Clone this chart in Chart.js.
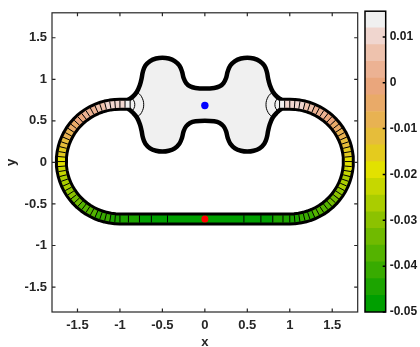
<!DOCTYPE html>
<html>
<head>
<meta charset="utf-8">
<script src="https://cdn.jsdelivr.net/npm/chart.js@4/dist/chart.umd.min.js"></script>
<style>
  html, body { margin: 0; padding: 0; background: #fff; }
  #wrap { position: relative; width: 420px; height: 347px; }
  #main { position: absolute; left: 0; top: 0; }
  #cbar { position: absolute; left: 355px; top: 0; }
</style>
</head>
<body>
<div id="wrap">
  <canvas id="main" width="420" height="347" style="width:420px;height:347px"></canvas>
  <canvas id="cbar" width="65" height="347" style="width:65px;height:347px"></canvas>
</div>
<script>
// axes
const axisRange = [-1.8, 1.8];
const xTicks = [-1.5, -1, -0.5, 0, 0.5, 1, 1.5];
const yTicks = [-1.5, -1, -0.5, 0, 0.5, 1, 1.5];

// colour bar
const cbRange = [-0.05, 0.0156];
const cbTicks = [-0.05, -0.04, -0.03, -0.02, -0.01, 0, 0.01];
const bandColors = [
  '#009f00', '#1ca400', '#38ab00', '#54b300', '#70ba00', '#8cc200',
  '#aacd00', '#c6d700', '#e2e100', '#e4cb1e', '#e6bd3a', '#e8b252',
  '#e9aa68', '#eaa67c', '#ecb293', '#eec2ad', '#f0d6cf', '#f0f0f0'
];

// loop channel centre line
const trackCentreX = [-1, 1];
const trackCentreY = 0.01;
const trackRadius = 0.69;

// cell edges of the channel mesh
const stubEdgesX = [-0.88, -0.94, -1.0];
const arcEdgesDeg = [90, 94.74, 99.47, 104.21, 108.95, 113.68, 118.42, 123.16, 127.89, 132.63,
  137.37, 142.11, 146.84, 151.58, 156.32, 161.05, 165.79, 170.53, 175.26, 180,
  184.74, 189.47, 194.21, 198.95, 203.68, 208.42, 213.16, 217.89, 222.63, 227.37,
  232.11, 236.84, 241.58, 246.32, 251.05, 255.79, 260.53, 265.26, 270];
const bottomEdgesX = [-1.0, -0.9, -0.77, -0.63, -0.44, 0, 0.46, 0.66, 0.80, 0.92, 1.0];

// one value per cell, from the left neck round the bottom to the right neck
const cellValues = [
  0.014, 0.0115,
  0.0105, 0.0095, 0.0085, 0.0075, 0.006, 0.0045, 0.003, 0.0015, 0.0, -0.0015,
  -0.003, -0.005, -0.007, -0.009, -0.011, -0.013, -0.015, -0.017, -0.019,
  -0.0205, -0.022, -0.0235, -0.025, -0.0265, -0.028, -0.0295, -0.031, -0.0325,
  -0.034, -0.0355, -0.037, -0.038, -0.039, -0.040, -0.041, -0.042, -0.043, -0.044,
  -0.0455, -0.046, -0.047, -0.048, -0.049, -0.049, -0.048, -0.047, -0.046, -0.0455,
  -0.044, -0.043, -0.042, -0.041, -0.040, -0.039, -0.038, -0.037, -0.0355, -0.034,
  -0.0325, -0.031, -0.0295, -0.028, -0.0265, -0.025, -0.0235, -0.022, -0.0205,
  -0.019, -0.017, -0.015, -0.013, -0.011, -0.009, -0.007, -0.005, -0.003, -0.0015,
  0.0, 0.0015, 0.003, 0.0045, 0.006, 0.0075, 0.0085, 0.0095, 0.0105,
  0.0115, 0.014
];

// central chamber: upper and lower walls, left to right
const blobX = [-0.90, -0.85, -0.80, -0.765, -0.745, -0.73, -0.70, -0.645, -0.575, -0.50,
  -0.425, -0.355, -0.30, -0.268, -0.25, -0.22, -0.175, -0.11, 0,
  0.11, 0.175, 0.22, 0.25, 0.268, 0.30, 0.355, 0.425, 0.50, 0.575,
  0.645, 0.70, 0.73, 0.745, 0.765, 0.80, 0.85, 0.90];
const blobTopY = [0.755, 0.79, 0.85, 0.93, 1.01, 1.09, 1.165, 1.22, 1.25, 1.26,
  1.25, 1.22, 1.165, 1.09, 1.015, 0.955, 0.915, 0.895, 0.888,
  0.895, 0.915, 0.955, 1.015, 1.09, 1.165, 1.22, 1.25, 1.26, 1.25,
  1.22, 1.165, 1.09, 1.01, 0.93, 0.85, 0.79, 0.755];
const blobBottomY = [0.645, 0.60, 0.54, 0.46, 0.38, 0.30, 0.225, 0.17, 0.14, 0.13,
  0.14, 0.17, 0.225, 0.30, 0.375, 0.435, 0.475, 0.495, 0.502,
  0.495, 0.475, 0.435, 0.375, 0.30, 0.225, 0.17, 0.14, 0.13, 0.14,
  0.17, 0.225, 0.30, 0.38, 0.46, 0.54, 0.60, 0.645];

// thin arcs at the two necks
const neckArcsX = [
  [-0.80, -0.745, -0.72, -0.745, -0.80],
  [-0.865, -0.835, -0.825, -0.835, -0.865],
  [0.80, 0.745, 0.72, 0.745, 0.80],
  [0.865, 0.835, 0.825, 0.835, 0.865]
];
const neckArcsY = [
  [0.85, 0.79, 0.695, 0.60, 0.54],
  [0.78, 0.74, 0.695, 0.65, 0.61],
  [0.85, 0.79, 0.695, 0.60, 0.54],
  [0.78, 0.74, 0.695, 0.65, 0.61]
];

const bluePoint = { x: 0, y: 0.685 };
const redPoint = { x: 0, y: -0.68 };

const fontFamily = "'Liberation Sans', Arial, sans-serif";
const axisFont = { family: fontFamily, size: 13, weight: 'bold' };
const cbFont = { family: fontFamily, size: 12, weight: 'bold' };
const axisColor = '#262626';

function colorFor(v) {
  const n = bandColors.length;
  const i = Math.floor((v - cbRange[0]) / (cbRange[1] - cbRange[0]) * n);
  return bandColors[Math.max(0, Math.min(n - 1, i))];
}

// cell edge points along the channel
const yTop = trackCentreY + trackRadius;
const yBot = trackCentreY - trackRadius;
const edges = [];
stubEdgesX.forEach(x => edges.push({ x: x, y: yTop, rot: 90 }));
arcEdgesDeg.slice(1).forEach(a => {
  const t = a * Math.PI / 180;
  edges.push({ x: trackCentreX[0] + trackRadius * Math.cos(t), y: trackCentreY + trackRadius * Math.sin(t), rot: -a });
});
bottomEdgesX.slice(1).forEach(x => edges.push({ x: x, y: yBot, rot: 90 }));
arcEdgesDeg.slice(1).forEach(a => {
  const t = (a - 180) * Math.PI / 180;
  edges.push({ x: trackCentreX[1] + trackRadius * Math.cos(t), y: trackCentreY + trackRadius * Math.sin(t), rot: 180 - a });
});
stubEdgesX.slice().reverse().slice(1).forEach(x => edges.push({ x: -x, y: yTop, rot: 90 }));
const edgePts = edges.map(e => ({ x: e.x, y: e.y }));

const blobTop = blobX.map((x, i) => ({ x: x, y: blobTopY[i] }));
const blobBottom = blobX.map((x, i) => ({ x: x, y: blobBottomY[i] }));
const blobShape = blobTop.concat(blobBottom.slice().reverse(), [blobTop[0]]);

// box with inward ticks, like the original figure
const boxTicks = {
  id: 'boxTicks',
  afterDatasetsDraw(chart, args, opts) {
    const { ctx, chartArea: a } = chart;
    ctx.save();
    ctx.strokeStyle = opts.color;
    ctx.lineWidth = opts.width;
    ctx.strokeRect(a.left, a.top, a.right - a.left, a.bottom - a.top);
    ctx.beginPath();
    if (opts.xTicks) {
      chart.scales.x.ticks.forEach(t => {
        const px = chart.scales.x.getPixelForValue(t.value);
        ctx.moveTo(px, a.bottom); ctx.lineTo(px, a.bottom - opts.len);
        ctx.moveTo(px, a.top); ctx.lineTo(px, a.top + opts.len);
      });
    }
    chart.scales.y.ticks.forEach(t => {
      const py = chart.scales.y.getPixelForValue(t.value);
      if (opts.leftTicks) { ctx.moveTo(a.left, py); ctx.lineTo(a.left + opts.len, py); }
      ctx.moveTo(a.right, py); ctx.lineTo(a.right - opts.len, py);
    });
    ctx.stroke();
    ctx.restore();
  }
};

const datasets = [
  {
    data: blobShape, showLine: true, fill: 'shape', backgroundColor: '#f0f0f0',
    borderWidth: 0, borderColor: 'rgba(0,0,0,0)', tension: 0.4, pointRadius: 0, order: 6
  },
  { data: blobTop, showLine: true, borderColor: '#000', borderWidth: 4.5, tension: 0.4, pointRadius: 0, order: 5 },
  { data: blobBottom, showLine: true, borderColor: '#000', borderWidth: 4.5, tension: 0.4, pointRadius: 0, order: 5 },
  {
    data: edgePts, showLine: true, borderColor: '#000', borderWidth: 13,
    borderCapStyle: 'butt', borderJoinStyle: 'round', tension: 0, pointRadius: 0, order: 4
  },
  {
    data: edgePts, showLine: true, borderWidth: 7, borderCapStyle: 'butt', tension: 0,
    segment: { borderColor: c => colorFor(cellValues[c.p0DataIndex]) },
    pointStyle: 'line', pointRadius: 3.6, pointBorderColor: '#000', pointBorderWidth: 1,
    pointRotation: edges.map(e => e.rot), order: 3
  }
];
neckArcsX.forEach((xs, k) => datasets.push({
  data: xs.map((x, i) => ({ x: x, y: neckArcsY[k][i] })),
  showLine: true, borderColor: '#000', borderWidth: 1, tension: 0.4, pointRadius: 0, order: 1
}));
datasets.push({ data: [bluePoint], pointRadius: 3.7, pointBackgroundColor: '#0000ff', pointBorderWidth: 0, order: 0 });
datasets.push({ data: [redPoint], pointRadius: 3.5, pointBackgroundColor: '#ff0000', pointBorderWidth: 0, order: 0 });

new Chart(document.getElementById('main'), {
  type: 'scatter',
  data: { datasets: datasets },
  options: {
    responsive: false,
    animation: false,
    layout: { padding: { top: 7, right: 62.3, left: 0, bottom: 0 } },
    plugins: {
      legend: { display: false },
      tooltip: { enabled: false },
      boxTicks: { color: axisColor, width: 1.2, len: 3.5, xTicks: true, leftTicks: true }
    },
    scales: {
      x: {
        type: 'linear', min: axisRange[0], max: axisRange[1],
        afterBuildTicks: s => { s.ticks = xTicks.map(v => ({ value: v })); },
        afterFit: s => { s.height = 35; },
        grid: { display: false, drawTicks: false },
        border: { display: false },
        ticks: { padding: 6, font: axisFont, color: axisColor, maxRotation: 0, autoSkip: false, callback: v => String(v) },
        title: { display: true, text: 'x', font: axisFont, color: axisColor, padding: { top: 0, bottom: -3 } }
      },
      y: {
        type: 'linear', min: axisRange[0], max: axisRange[1],
        afterBuildTicks: s => { s.ticks = yTicks.map(v => ({ value: v })); },
        afterFit: s => { s.width = 52; },
        grid: { display: false, drawTicks: false },
        border: { display: false },
        ticks: { padding: 5, font: axisFont, color: axisColor, autoSkip: false, callback: v => String(v) },
        title: { display: true, text: 'y', font: axisFont, color: axisColor, padding: { top: 4, bottom: 0 } }
      }
    }
  },
  plugins: [boxTicks]
});

// colour bar
const bandStep = (cbRange[1] - cbRange[0]) / bandColors.length;
new Chart(document.getElementById('cbar'), {
  type: 'bar',
  data: {
    labels: ['c'],
    datasets: bandColors.map((c, i) => ({
      data: [[cbRange[0] + i * bandStep, cbRange[0] + (i + 1) * bandStep]],
      backgroundColor: c, borderWidth: 0, barPercentage: 1, categoryPercentage: 1, grouped: false
    }))
  },
  options: {
    responsive: false,
    animation: false,
    layout: { padding: { left: 10, top: 7, bottom: 35, right: 0 } },
    plugins: {
      legend: { display: false },
      tooltip: { enabled: false },
      boxTicks: { color: '#000', width: 1.5, len: 3, xTicks: false, leftTicks: false }
    },
    scales: {
      x: { display: false },
      y: {
        position: 'right', min: cbRange[0], max: cbRange[1],
        afterBuildTicks: s => { s.ticks = cbTicks.map(v => ({ value: v })); },
        afterFit: s => { s.width = 34.3; },
        grid: { display: false, drawTicks: false },
        border: { display: false },
        ticks: { padding: 4, font: cbFont, color: '#1a1a1a', autoSkip: false, callback: v => String(v) }
      }
    }
  },
  plugins: [boxTicks]
});
</script>
</body>
</html>
